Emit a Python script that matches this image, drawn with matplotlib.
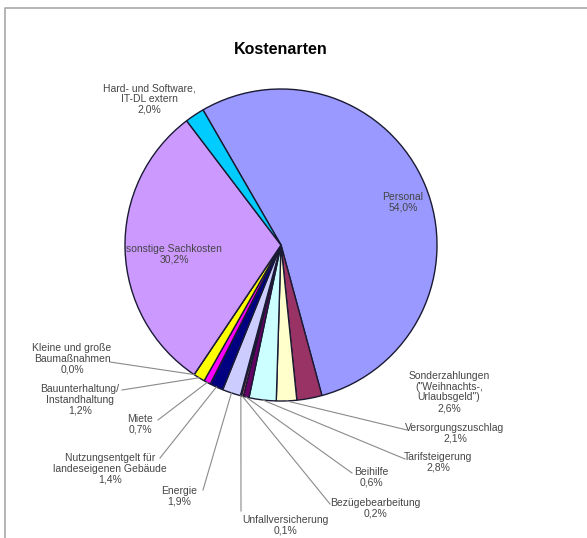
import numpy as np
import matplotlib
matplotlib.use('Agg')
import matplotlib.pyplot as plt

W, H = 587, 538

# data, in drawing order (clockwise from the first slice)
categories = ['Personal',
              'Sonderzahlungen\n("Weihnachts-,\nUrlaubsgeld")',
              'Versorgungszuschlag',
              'Tarifsteigerung',
              'Beihilfe',
              'Bezügebearbeitung',
              'Unfallversicherung',
              'Energie',
              'Nutzungsentgelt für\nlandeseigenen Gebäude',
              'Miete',
              'Bauunterhaltung/\nInstandhaltung',
              'Kleine und große\nBaumaßnahmen',
              'sonstige Sachkosten',
              'Hard- und Software,\nIT-DL extern']
values = [54.0, 2.6, 2.1, 2.8, 0.6, 0.2, 0.1, 1.9, 1.4, 0.7, 1.2, 0.0, 30.2, 2.0]
colors = ['#9999FF', '#993366', '#FFFFCC', '#CCFFFF', '#660066', '#FF8080',
          '#0066CC', '#CCCCFF', '#000080', '#FF00FF', '#FFFF00', '#00FFFF',
          '#CC99FF', '#00CCFF']

# label layout in pixels: text centre, leader-line start (None = no line)
label_pos = [(403, 202), (449, 392), (455, 433), (438, 462), (371, 477),
             (375, 508), (285, 525), (179, 496), (110, 469), (140, 424),
             (80, 400), (72, 359), (174, 254), (149, 99)]
line_start = [None, None, (407, 430), (405, 459), (352, 473), (330, 504),
              (241, 511), (203, 490), (160, 458), (158, 420), (122, 390),
              (110, 362), None, None]

CX, CY, R = 281, 245, 156
START = 120

fig = plt.figure(figsize=(W / 100, H / 100), dpi=100)
ax = fig.add_axes([0, 0, 1, 1])

ax.pie(values, colors=colors, startangle=START, counterclock=False,
       center=(CX, H - CY), radius=R,
       wedgeprops=dict(edgecolor='#1a1a33', linewidth=1.0))

ax.set_xlim(0, W)
ax.set_ylim(0, H)
ax.set_aspect('equal')
ax.axis('off')

# chart frame (cut off at right/bottom like the screenshot)
ax.plot([5, 5, W + 5], [-5, H - 8, H - 8], color='#a8a8a8', lw=1.2,
        clip_on=False)

ax.text(281, H - 49, 'Kostenarten', ha='center', va='center',
        fontsize=11.5, fontweight='bold', family='Liberation Sans')

total = sum(values)
cum = np.cumsum([0] + values[:-1])
for i, name in enumerate(categories):
    txt = '%s\n%s%%' % (name, ('%.1f' % values[i]).replace('.', ','))
    tx, ty = label_pos[i]
    ax.text(tx, H - ty, txt, ha='center', va='center', fontsize=7.5,
            family='Liberation Sans', color='#454545', linespacing=1.1)
    if line_start[i] is not None:
        mid = np.deg2rad(START - (cum[i] + values[i] / 2) / total * 360)
        px = CX + R * np.cos(mid)
        py = (H - CY) + R * np.sin(mid)
        sx, sy = line_start[i]
        ax.plot([sx, px], [H - sy, py], color='#8a8a8a', lw=0.8)

fig.savefig('out.png', dpi=100)
